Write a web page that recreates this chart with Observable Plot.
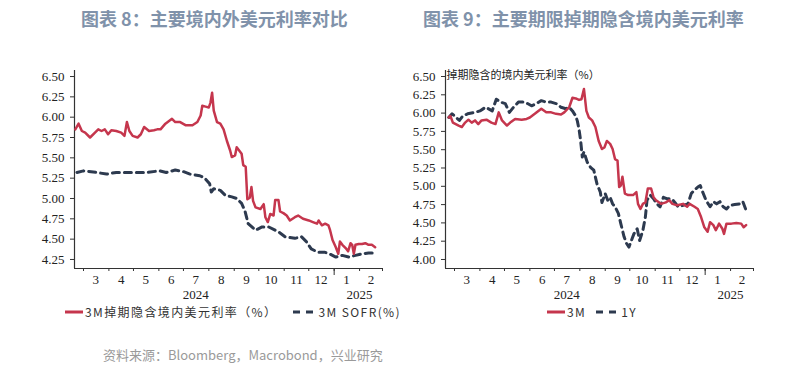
<!DOCTYPE html>
<html><head><meta charset="utf-8">
<script src="https://cdn.jsdelivr.net/npm/d3@7"></script>
<script src="https://cdn.jsdelivr.net/npm/@observablehq/plot@0.6"></script>
<style>
body{margin:0;background:#fff;width:806px;height:371px;position:relative;overflow:hidden;font-family:"Noto Sans CJK SC",sans-serif}
.abs{position:absolute;white-space:nowrap}
.title{font-size:18px;font-weight:bold;color:#8092aa;top:6px;line-height:24px}
.leg{font-size:12px;color:#333;letter-spacing:1.4px;top:303px;line-height:18px;display:flex;align-items:center}
.src{font-size:13px;color:#9a9a9a;top:345px;left:103px;line-height:20px}
g[aria-label$="tick label"], g[aria-label$="tick label"] text{font-family:"Liberation Serif","Times New Roman",serif !important;font-variant-numeric:normal}
</style></head><body>
<div class="abs title" style="left:81px">图表 8：主要境内外美元利率对比</div>
<div class="abs title" style="left:423px">图表 9：主要期限掉期隐含境内美元利率</div>
<div id="c1" class="abs" style="left:0;top:40px"></div>
<div id="c2" class="abs" style="left:403px;top:40px"></div>
<div id="leg1" class="abs leg" style="left:65px"></div>
<div id="leg2" class="abs leg" style="left:547px"></div>
<div class="abs src">资料来源：Bloomberg，Macrobond，兴业研究</div>
<script>
// ---- data ----
const leftDates3M = ["2024-02-20","2024-02-24","2024-02-28","2024-03-03","2024-03-09","2024-03-15","2024-03-19","2024-03-23","2024-03-27","2024-03-31","2024-04-04","2024-04-10","2024-04-16","2024-04-20","2024-04-23","2024-04-26","2024-04-30","2024-05-06","2024-05-10","2024-05-14","2024-05-20","2024-05-26","2024-05-30","2024-06-03","2024-06-09","2024-06-17","2024-06-21","2024-06-27","2024-07-04","2024-07-12","2024-07-18","2024-07-22","2024-07-24","2024-07-28","2024-08-01","2024-08-03","2024-08-05","2024-08-07","2024-08-11","2024-08-15","2024-08-19","2024-08-23","2024-08-27","2024-08-29","2024-09-02","2024-09-04","2024-09-07","2024-09-10","2024-09-12","2024-09-15","2024-09-17","2024-09-20","2024-09-22","2024-09-24","2024-09-27","2024-10-03","2024-10-07","2024-10-09","2024-10-12","2024-10-15","2024-10-19","2024-10-21","2024-10-25","2024-10-27","2024-10-31","2024-11-04","2024-11-08","2024-11-14","2024-11-18","2024-11-24","2024-12-01","2024-12-06","2024-12-11","2024-12-13","2024-12-17","2024-12-21","2024-12-25","2024-12-27","2024-12-30","2025-01-03","2025-01-06","2025-01-08","2025-01-11","2025-01-15","2025-01-18","2025-01-21","2025-01-23","2025-01-25","2025-01-27","2025-01-31","2025-02-04","2025-02-08","2025-02-12","2025-02-16","2025-02-20"];
const left3M = [5.85,5.92,5.83,5.81,5.75,5.81,5.85,5.83,5.85,5.79,5.84,5.83,5.81,5.77,5.94,5.83,5.77,5.75,5.79,5.88,5.83,5.84,5.85,5.85,5.92,5.98,5.94,5.94,5.90,5.90,5.94,6.02,6.14,6.13,6.12,6.18,6.30,6.08,5.94,5.92,5.85,5.71,5.59,5.51,5.53,5.63,5.59,5.55,5.41,5.39,4.99,5.01,5.14,4.97,4.89,4.87,4.93,4.77,4.71,4.81,4.79,4.98,4.98,4.84,4.82,4.79,4.73,4.77,4.79,4.75,4.73,4.71,4.69,4.73,4.67,4.69,4.67,4.61,4.49,4.40,4.32,4.47,4.43,4.39,4.35,4.45,4.43,4.32,4.43,4.44,4.44,4.45,4.43,4.43,4.40];

const sofrDates = ["2024-02-22","2024-03-01","2024-03-17","2024-03-29","2024-04-10","2024-04-26","2024-05-17","2024-06-02","2024-06-10","2024-06-21","2024-07-01","2024-07-09","2024-07-21","2024-07-27","2024-08-02","2024-08-04","2024-08-07","2024-08-15","2024-08-21","2024-08-29","2024-09-04","2024-09-10","2024-09-14","2024-09-18","2024-09-27","2024-10-05","2024-10-13","2024-10-25","2024-11-02","2024-11-14","2024-11-22","2024-11-28","2024-12-04","2024-12-12","2024-12-20","2024-12-26","2025-01-03","2025-01-11","2025-01-19","2025-01-27","2025-02-04","2025-02-12","2025-02-20"];
const sofr = [5.32,5.34,5.32,5.30,5.32,5.32,5.32,5.34,5.32,5.35,5.33,5.30,5.28,5.25,5.18,5.08,5.12,5.10,5.04,5.02,5.00,4.94,4.85,4.69,4.61,4.65,4.65,4.59,4.53,4.51,4.53,4.47,4.38,4.34,4.34,4.32,4.28,4.30,4.28,4.30,4.32,4.33,4.33];

const rightDates3M = ["2024-02-23","2024-02-25","2024-02-28","2024-03-06","2024-03-10","2024-03-14","2024-03-18","2024-03-22","2024-03-26","2024-03-30","2024-04-03","2024-04-09","2024-04-15","2024-04-20","2024-04-24","2024-04-28","2024-05-04","2024-05-08","2024-05-14","2024-05-22","2024-05-28","2024-06-01","2024-06-07","2024-06-15","2024-06-21","2024-06-27","2024-07-03","2024-07-09","2024-07-13","2024-07-19","2024-07-23","2024-07-27","2024-07-31","2024-08-03","2024-08-06","2024-08-09","2024-08-12","2024-08-16","2024-08-20","2024-08-24","2024-08-28","2024-08-31","2024-09-03","2024-09-07","2024-09-10","2024-09-13","2024-09-16","2024-09-18","2024-09-20","2024-09-22","2024-09-25","2024-09-29","2024-10-05","2024-10-09","2024-10-11","2024-10-14","2024-10-17","2024-10-20","2024-10-23","2024-10-27","2024-10-30","2024-11-02","2024-11-08","2024-11-14","2024-11-18","2024-11-22","2024-11-28","2024-12-05","2024-12-10","2024-12-13","2024-12-19","2024-12-23","2024-12-27","2024-12-31","2025-01-04","2025-01-07","2025-01-11","2025-01-14","2025-01-18","2025-01-22","2025-01-24","2025-01-27","2025-02-02","2025-02-08","2025-02-14","2025-02-17","2025-02-20"];
const right3M = [5.94,5.96,5.87,5.83,5.81,5.87,5.91,5.87,5.90,5.85,5.90,5.91,5.87,5.85,6.01,5.90,5.83,5.87,5.92,5.91,5.92,5.94,5.99,6.06,6.01,6.01,5.99,5.98,6.01,6.08,6.21,6.20,6.18,6.19,6.33,6.03,5.94,5.90,5.81,5.62,5.51,5.53,5.62,5.58,5.51,5.37,5.35,4.99,5.01,5.13,4.90,4.88,4.88,4.92,4.76,4.69,4.76,4.78,4.97,4.97,4.85,4.81,4.76,4.78,4.81,4.76,4.74,4.76,4.72,4.76,4.72,4.69,4.58,4.44,4.38,4.51,4.47,4.40,4.49,4.42,4.35,4.49,4.49,4.50,4.49,4.44,4.47];

const rightDates1Y = ["2024-02-23","2024-02-27","2024-03-01","2024-03-07","2024-03-11","2024-03-17","2024-03-26","2024-04-01","2024-04-08","2024-04-16","2024-04-21","2024-04-26","2024-05-02","2024-05-07","2024-05-12","2024-05-18","2024-05-26","2024-06-03","2024-06-09","2024-06-15","2024-06-21","2024-06-27","2024-07-03","2024-07-09","2024-07-15","2024-07-19","2024-07-23","2024-07-27","2024-07-29","2024-07-31","2024-08-02","2024-08-04","2024-08-06","2024-08-10","2024-08-14","2024-08-18","2024-08-22","2024-08-26","2024-08-28","2024-09-01","2024-09-04","2024-09-07","2024-09-10","2024-09-13","2024-09-17","2024-09-20","2024-09-24","2024-09-27","2024-09-30","2024-10-03","2024-10-06","2024-10-10","2024-10-13","2024-10-17","2024-10-20","2024-10-22","2024-10-26","2024-10-30","2024-11-03","2024-11-07","2024-11-11","2024-11-15","2024-11-21","2024-11-25","2024-11-29","2024-12-05","2024-12-11","2024-12-15","2024-12-19","2024-12-23","2024-12-26","2024-12-29","2025-01-02","2025-01-07","2025-01-11","2025-01-15","2025-01-19","2025-01-23","2025-01-27","2025-01-31","2025-02-06","2025-02-12","2025-02-16","2025-02-20"];
const right1Y = [5.94,5.99,5.96,5.90,5.96,5.99,6.01,6.03,6.08,6.03,6.19,6.15,6.13,6.01,6.08,6.15,6.15,6.10,6.13,6.17,6.15,6.15,6.13,6.08,6.06,6.08,6.03,5.96,5.89,5.78,5.62,5.40,5.47,5.33,5.26,5.22,5.03,4.92,4.78,4.90,4.81,4.85,4.76,4.72,4.63,4.49,4.31,4.22,4.17,4.26,4.35,4.42,4.26,4.40,4.58,4.81,4.88,4.83,4.76,4.72,4.85,4.83,4.83,4.78,4.72,4.74,4.76,4.90,4.95,4.99,5.01,4.92,4.81,4.72,4.79,4.76,4.79,4.72,4.69,4.74,4.75,4.76,4.79,4.67];

const xStart = "2024-02-19", xEnd = "2025-03-01";
const monthStarts = ["2024-03-01","2024-04-01","2024-05-01","2024-06-01","2024-07-01","2024-08-01","2024-09-01","2024-10-01","2024-11-01","2024-12-01","2025-01-01","2025-02-01","2025-03-01"];
const yearBoundaries = ["2025-01-01"];
const monthMids = ["2024-03-16","2024-04-16","2024-05-16","2024-06-16","2024-07-16","2024-08-16","2024-09-16","2024-10-16","2024-11-16","2024-12-16","2025-01-16","2025-02-15"];
const monthLabels = ["3","4","5","6","7","8","9","10","11","12","1","2"];
const yearMids = ["2024-07-16","2025-02-01"];
const yearLabels = ["2024","2025"];
const leftYTicks = [4.25,4.5,4.75,5.0,5.25,5.5,5.75,6.0,6.25,6.5];
const rightYTicks = [4.0,4.25,4.5,4.75,5.0,5.25,5.5,5.75,6.0,6.25,6.5];
const leftYDomain = [4.139, 6.574];
const rightYDomain = [3.877, 6.582];
const leftLegend = ["3M掉期隐含境内美元利率（%）","3M SOFR(%)"];
const rightLegend = ["3M","1Y"];
const rightInnerLabel = "掉期隐含的境内美元利率（%）";

const RED = "#c5364d", NAVY = "#2d3a4f";
const D = s => new Date(s);
const series = (dates, vals) => dates.map((d, i) => ({date: D(d), value: vals[i]}));

function chart({solid, dashed, yDomain, yTicks, marginLeft, marginRight, extra = []}) {
  const mLab = new Map(monthMids.map((d, i) => [+D(d), monthLabels[i]]));
  const yLab = new Map(yearMids.map((d, i) => [+D(d), yearLabels[i]]));
  return Plot.plot({
    width: 403, height: 270,
    marginTop: 30, marginBottom: 42, marginLeft, marginRight,
    x: {type: "utc", domain: [D(xStart), D(xEnd)]},
    y: {domain: yDomain},
    style: {fontFamily: "'Liberation Serif', serif", fontSize: "13px", color: "#222", background: "transparent", overflow: "visible"},
    marks: [
      Plot.axisY({ticks: yTicks, tickSize: 4, tickPadding: 6, tickFormat: d => d.toFixed(2), label: null, stroke: "#333"}),
      Plot.axisX({ticks: monthStarts.map(D), tickSize: 3, tickFormat: () => "", label: null, stroke: "#333"}),
      Plot.axisX({ticks: yearBoundaries.map(D), tickSize: 7, tickFormat: () => "", label: null, stroke: "#333"}),
      Plot.axisX({ticks: monthMids.map(D), tickSize: 0, tickPadding: 6, tickFormat: d => mLab.get(+d), label: null}),
      Plot.axisX({ticks: yearMids.map(D), tickSize: 0, tickPadding: 21, tickFormat: d => yLab.get(+d), label: null}),
      Plot.ruleX([D(xStart)], {stroke: "#333", strokeWidth: 1.2}),
      Plot.ruleY([yDomain[0]], {stroke: "#333", strokeWidth: 1.2}),
      Plot.line(dashed, {x: "date", y: "value", stroke: NAVY, strokeWidth: 3, strokeDasharray: "7,5"}),
      Plot.line(solid, {x: "date", y: "value", stroke: RED, strokeWidth: 2.5}),
      ...extra
    ]
  });
}

document.getElementById("c1").append(chart({
  solid: series(leftDates3M, left3M), dashed: series(sofrDates, sofr),
  yDomain: leftYDomain, yTicks: leftYTicks, marginLeft: 74, marginRight: 21
}));
document.getElementById("c2").append(chart({
  solid: series(rightDates3M, right3M), dashed: series(rightDates1Y, right1Y),
  yDomain: rightYDomain, yTicks: rightYTicks, marginLeft: 42, marginRight: 53,
  extra: [Plot.text([rightInnerLabel], {frameAnchor: "top-left", dx: 1, dy: 5, textAnchor: "start", lineAnchor: "middle", text: d => d, fontFamily: "'Noto Sans CJK SC', sans-serif", fontSize: 11, fill: "#222"})]
}));

function swatch(dashed) {
  return dashed
    ? `<svg width="22" height="6" style="margin:0 3px 0 6px"><line x1="0" y1="3" x2="22" y2="3" stroke="${NAVY}" stroke-width="3" stroke-dasharray="7,6"/></svg>`
    : `<svg width="18" height="6" style="margin-right:2px"><line x1="0" y1="3" x2="18" y2="3" stroke="${RED}" stroke-width="3"/></svg>`;
}
document.getElementById("leg1").innerHTML = swatch(false) + `<span>${leftLegend[0]}</span>` + `<span style="width:10px"></span>` + swatch(true) + `<span>${leftLegend[1]}</span>`;
document.getElementById("leg2").innerHTML = swatch(false) + `<span>${rightLegend[0]}</span>` + `<span style="width:4px"></span>` + swatch(true) + `<span>${rightLegend[1]}</span>`;
</script>
</body></html>
